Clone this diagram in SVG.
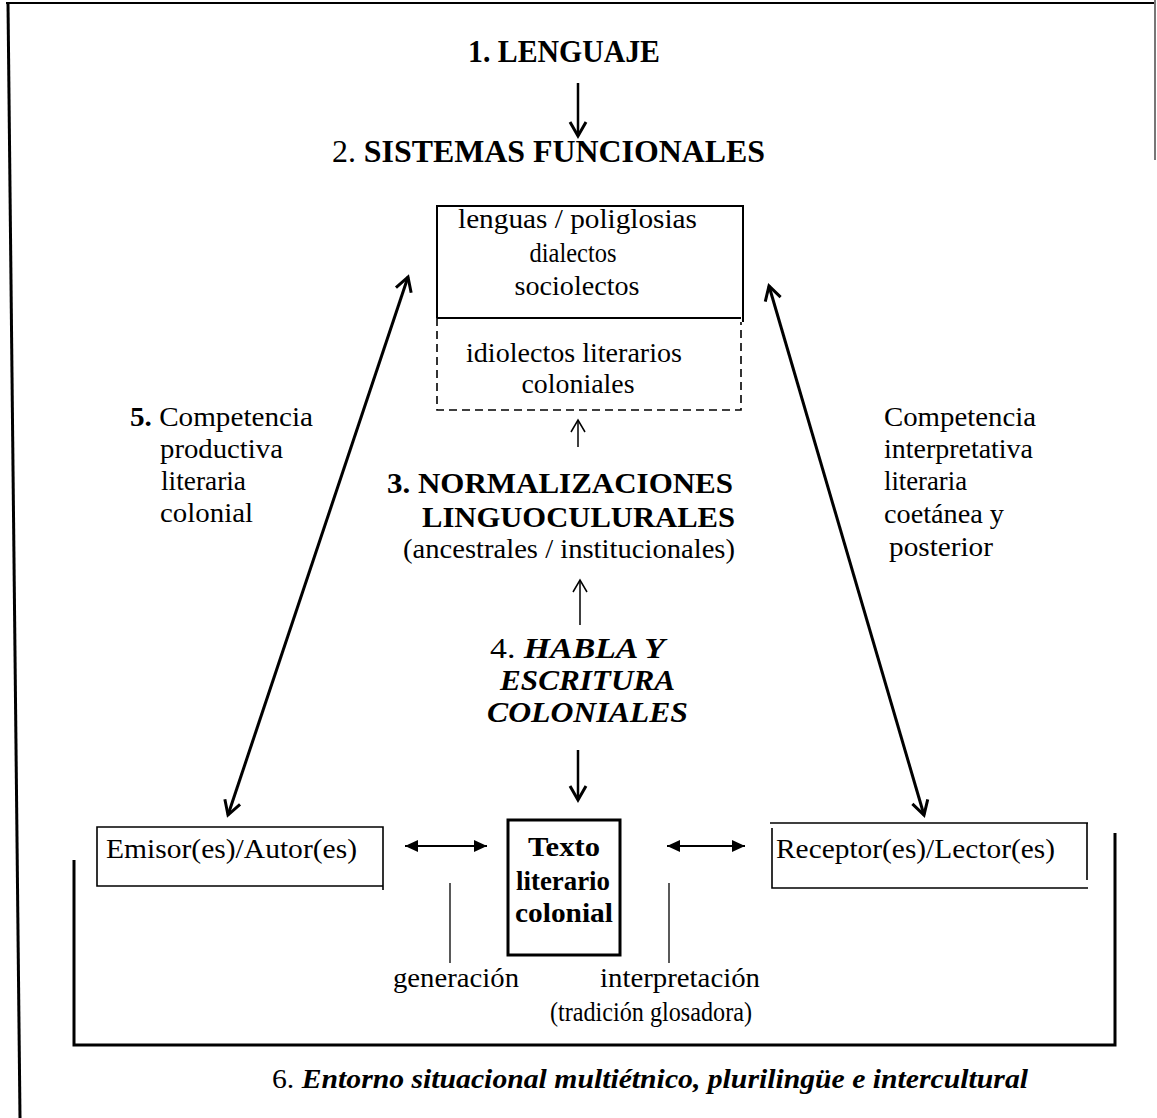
<svg xmlns="http://www.w3.org/2000/svg" width="1157" height="1118" viewBox="0 0 1157 1118">
<style>
text{font-family:"Liberation Serif","Times New Roman",serif;fill:#000}
.t{font-size:27px}
.b{font-weight:bold}
.bi{font-weight:bold;font-style:italic}
.ln{stroke:#000;fill:none}
</style>
<defs>
<marker id="vh" markerUnits="userSpaceOnUse" viewBox="-16 -10 20 20" refX="0" refY="0" markerWidth="20" markerHeight="20" orient="auto-start-reverse">
<path d="M-14,-8 L0,0 L-14,8" fill="none" stroke="#000" stroke-width="3" stroke-linejoin="miter"/>
</marker>
<marker id="vt" markerUnits="userSpaceOnUse" viewBox="-14 -9 18 18" refX="0" refY="0" markerWidth="18" markerHeight="18" orient="auto-start-reverse">
<path d="M-12,-7 L0,0 L-12,7" fill="none" stroke="#000" stroke-width="1.5"/>
</marker>
<marker id="ft" markerUnits="userSpaceOnUse" viewBox="-14 -8 16 16" refX="0" refY="0" markerWidth="16" markerHeight="16" orient="auto-start-reverse">
<path d="M-13,-6 L0,0 L-13,6 Z" fill="#000"/>
</marker>
</defs>
<rect width="1157" height="1118" fill="#fff"/>
<g id="frame" class="ln">
<line x1="6" y1="3" x2="1155" y2="3" stroke-width="2"/>
<line x1="8" y1="3" x2="20" y2="1118" stroke-width="3"/>
<line x1="1155" y1="0" x2="1155" y2="160" stroke="#777" stroke-width="2"/>
<path d="M74,860 V1045 H1115 V833" stroke-width="3"/>
</g>
<g id="n1"><text class="b" x="564" y="62" font-size="31" text-anchor="middle" textLength="192" lengthAdjust="spacingAndGlyphs">1. LENGUAJE</text></g>
<g id="n2"><text x="332" y="162" font-size="31" textLength="433" lengthAdjust="spacingAndGlyphs"><tspan>2.  </tspan><tspan class="b">SISTEMAS FUNCIONALES</tspan></text></g>
<g id="sistemas">
<path class="ln" d="M437,318 V206 H743 V322 M437,318 H741" stroke-width="2"/>
<path class="ln" d="M437,318 V410 H741 V322" stroke-width="1.6" stroke-dasharray="8,5"/>
<text class="t" x="458" y="228" textLength="239" lengthAdjust="spacingAndGlyphs">lenguas / poliglosias</text>
<text class="t" x="573" y="262" text-anchor="middle" textLength="87" lengthAdjust="spacingAndGlyphs">dialectos</text>
<text class="t" x="577" y="295" text-anchor="middle" textLength="125" lengthAdjust="spacingAndGlyphs">sociolectos</text>
<text class="t" x="466" y="362" textLength="216" lengthAdjust="spacingAndGlyphs">idiolectos literarios</text>
<text class="t" x="578" y="393" text-anchor="middle" textLength="113" lengthAdjust="spacingAndGlyphs">coloniales</text>
</g>
<g id="n3">
<text x="387" y="493" font-size="29" class="b" textLength="346" lengthAdjust="spacingAndGlyphs">3.  NORMALIZACIONES</text>
<text x="422" y="527" font-size="29" class="b" textLength="313" lengthAdjust="spacingAndGlyphs">LINGUOCULURALES</text>
<text class="t" x="403" y="558" textLength="332" lengthAdjust="spacingAndGlyphs">(ancestrales / institucionales)</text>
</g>
<g id="n4">
<text x="490" y="658" font-size="30" textLength="175" lengthAdjust="spacingAndGlyphs"><tspan>4.  </tspan><tspan class="bi">HABLA Y</tspan></text>
<text x="500" y="690" font-size="30" class="bi" textLength="175" lengthAdjust="spacingAndGlyphs">ESCRITURA</text>
<text x="487" y="722" font-size="30" class="bi" textLength="201" lengthAdjust="spacingAndGlyphs">COLONIALES</text>
</g>
<g id="n5">
<text class="t" x="130" y="426" textLength="183" lengthAdjust="spacingAndGlyphs"><tspan class="b">5.</tspan> Competencia</text>
<text class="t" x="160" y="458" textLength="123" lengthAdjust="spacingAndGlyphs">productiva</text>
<text class="t" x="161" y="490" textLength="85" lengthAdjust="spacingAndGlyphs">literaria</text>
<text class="t" x="160" y="522" textLength="93" lengthAdjust="spacingAndGlyphs">colonial</text>
</g>
<g id="n5r">
<text class="t" x="884" y="426" textLength="152" lengthAdjust="spacingAndGlyphs">Competencia</text>
<text class="t" x="884" y="458" textLength="149" lengthAdjust="spacingAndGlyphs">interpretativa</text>
<text class="t" x="884" y="490" textLength="83" lengthAdjust="spacingAndGlyphs">literaria</text>
<text class="t" x="884" y="523" textLength="120" lengthAdjust="spacingAndGlyphs">coetánea y</text>
<text class="t" x="889" y="556" textLength="104" lengthAdjust="spacingAndGlyphs">posterior</text>
</g>
<g id="emisor">
<path class="ln" d="M383,890 V827 H97 V886 H383" stroke-width="1.6"/>
<text class="t" x="106" y="858" textLength="251" lengthAdjust="spacingAndGlyphs">Emisor(es)/Autor(es)</text>
</g>
<g id="texto">
<rect class="ln" x="508" y="820" width="112" height="135" stroke-width="3"/>
<text class="b" x="564" y="856" font-size="27" text-anchor="middle" textLength="72" lengthAdjust="spacingAndGlyphs">Texto</text>
<text class="b" x="563" y="890" font-size="27" text-anchor="middle" textLength="94" lengthAdjust="spacingAndGlyphs">literario</text>
<text class="b" x="564" y="922" font-size="27" text-anchor="middle" textLength="98" lengthAdjust="spacingAndGlyphs">colonial</text>
</g>
<g id="receptor">
<path class="ln" d="M770,823 H1088 M772,828 V888 H1088 M1087,823 V880" stroke-width="1.6"/>
<text class="t" x="776" y="858" textLength="279" lengthAdjust="spacingAndGlyphs">Receptor(es)/Lector(es)</text>
</g>
<g id="labels">
<text class="t" x="393" y="987" textLength="126" lengthAdjust="spacingAndGlyphs">generación</text>
<text class="t" x="600" y="987" textLength="160" lengthAdjust="spacingAndGlyphs">interpretación</text>
<text class="t" x="550" y="1021" textLength="202" lengthAdjust="spacingAndGlyphs">(tradición glosadora)</text>
</g>
<g id="n6"><text x="272" y="1088" font-size="28" textLength="756" lengthAdjust="spacingAndGlyphs"><tspan>6. </tspan><tspan class="bi">Entorno situacional multiétnico, plurilingüe e intercultural</tspan></text></g>
<g id="connectors" class="ln">
<line x1="578" y1="83" x2="578" y2="136" stroke-width="2.5" marker-end="url(#vh)"/>
<line x1="578" y1="447" x2="578" y2="420" stroke-width="1.5" marker-end="url(#vt)"/>
<line x1="580" y1="625" x2="580" y2="580" stroke-width="1.5" marker-end="url(#vt)"/>
<line x1="578" y1="750" x2="578" y2="800" stroke-width="2.5" marker-end="url(#vh)"/>
<line x1="408" y1="277" x2="228" y2="815" stroke-width="3" marker-start="url(#vh)" marker-end="url(#vh)"/>
<line x1="769" y1="286" x2="924" y2="815" stroke-width="3" marker-start="url(#vh)" marker-end="url(#vh)"/>
<line x1="405" y1="846" x2="487" y2="846" stroke-width="2" marker-start="url(#ft)" marker-end="url(#ft)"/>
<line x1="667" y1="846" x2="745" y2="846" stroke-width="2" marker-start="url(#ft)" marker-end="url(#ft)"/>
<line x1="450" y1="883" x2="450" y2="963" stroke-width="1.3"/>
<line x1="669" y1="883" x2="669" y2="963" stroke-width="1.3"/>
</g>
</svg>
